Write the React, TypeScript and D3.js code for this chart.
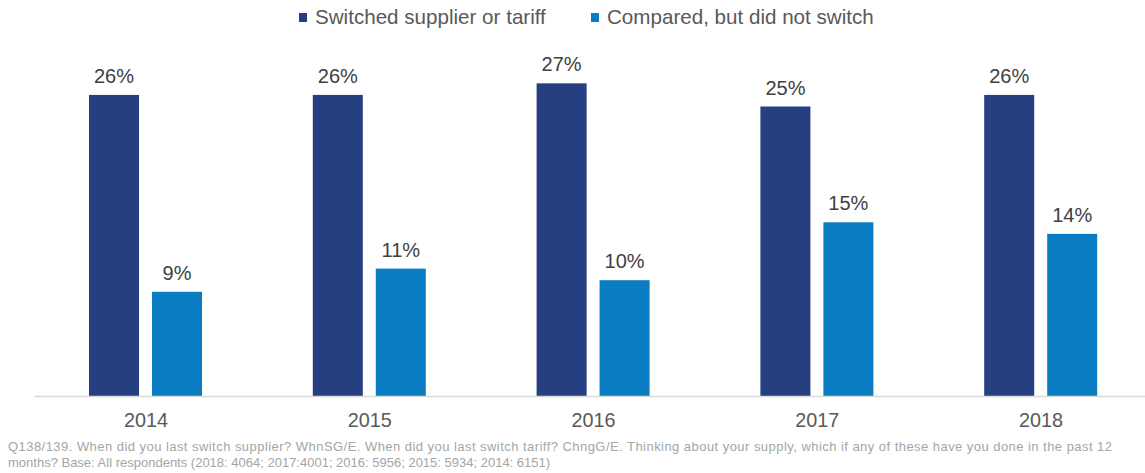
import React from "react";
import * as d3 from "d3";

const years = ["2014", "2015", "2016", "2017", "2018"];
const switched = [26, 26, 27, 25, 26];
const compared = [9, 11, 10, 15, 14];
const seriesNames = ["Switched supplier or tariff", "Compared, but did not switch"];
const colors = ["#253f80", "#0a7dc2"];
const footLine1 =
  "Q138/139. When did you last switch supplier? WhnSG/E. When did you last switch tariff? ChngG/E. Thinking about your  supply, which if any of these have you done in the past 12";
const footLine2 =
  "months? Base: All respondents (2018: 4064; 2017:4001; 2016: 5956; 2015: 5934; 2014: 6151)";

export default function App() {
  const W = 1145;
  const H = 473;
  const base = 396;
  const x = d3.scaleBand<string>().domain(years).range([34, 1153]).paddingInner(0).paddingOuter(0);
  const inner = d3.scaleBand<number>().domain([0, 1]).range([55, 168]).paddingInner(0.206);
  const y = d3.scaleLinear().domain([0, 30]).range([base, base - 30 * 11.58]);
  const series = [switched, compared];
  const font = "Arial, 'Liberation Sans', sans-serif";
  const legendX = [299, 591];

  return (
    <svg width={W} height={H} style={{ position: "absolute", left: 0, top: 0 }} fontFamily={font}>
      <rect width={W} height={H} fill="#fff" />
      {/* legend */}
      {seriesNames.map((n, i) => (
        <g key={n}>
          <rect x={legendX[i]} y={13} width={8} height={9} fill={colors[i]} />
          <text x={legendX[i] + 16} y={24} fontSize={20.6} fill="#595959">
            {n}
          </text>
        </g>
      ))}
      {/* bars */}
      {years.map((yr, ci) => (
        <g key={yr}>
          {series.map((s, si) => {
            const v = s[ci];
            const bx = x(yr)! + inner(si)!;
            return (
              <g key={si}>
                <rect x={bx} y={y(v)} width={inner.bandwidth()} height={base - y(v)} fill={colors[si]} />
                <text
                  x={bx + inner.bandwidth() / 2}
                  y={y(v) - 12}
                  textAnchor="middle"
                  fontSize={20}
                  fill="#404040"
                >
                  {v}%
                </text>
              </g>
            );
          })}
        </g>
      ))}
      {/* axis */}
      <line x1={34} x2={W} y1={base + 0.5} y2={base + 0.5} stroke="#d9d9d9" strokeWidth={1.5} />
      {years.map((yr) => (
        <text
          key={yr}
          x={x(yr)! + x.bandwidth() / 2}
          y={427}
          textAnchor="middle"
          fontSize={19.8}
          fill="#595959"
        >
          {yr}
        </text>
      ))}
      {/* footnote */}
      <text x={8} y={451} fontSize={13} fill="#a5a5a5" textLength={1104} lengthAdjust="spacing">
        {footLine1}
      </text>
      <text x={8} y={467} fontSize={13} fill="#a5a5a5">
        {footLine2}
      </text>
    </svg>
  );
}
